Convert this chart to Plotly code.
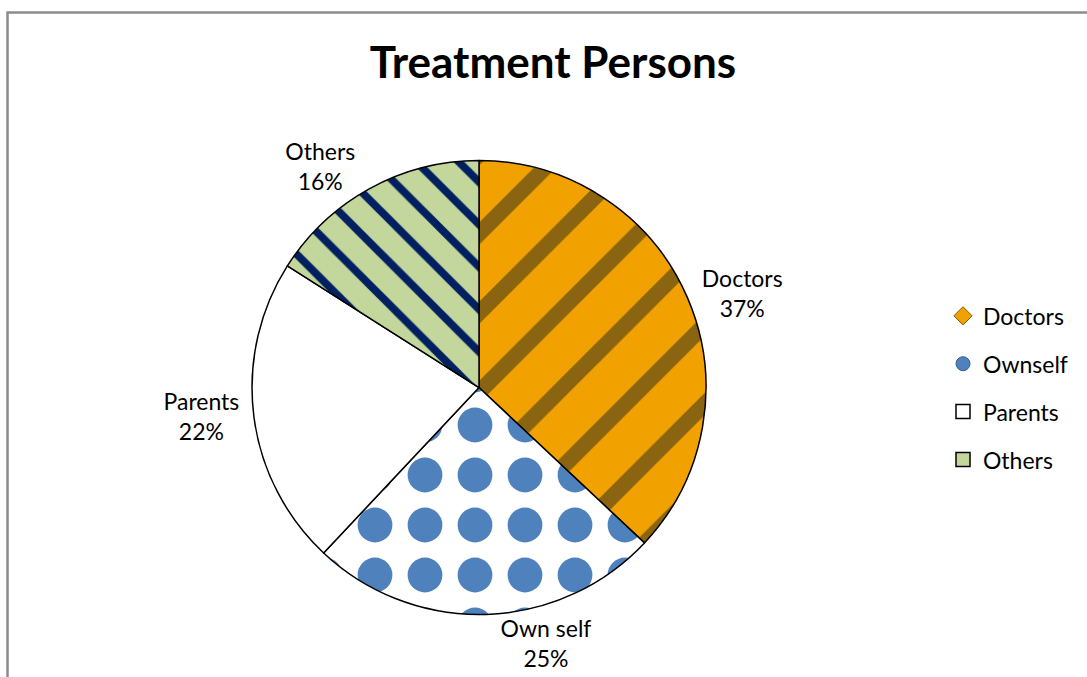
import plotly.graph_objects as go

# Who provided the treatment (share of respondents)
categories = ["Doctors", "Ownself", "Parents", "Others"]
slice_labels = ["Doctors", "Own self", "Parents", "Others"]
shares = [37, 25, 22, 16]

W, H = 1087, 677
FONT = "Lato"

slice_fill = dict(
    colors=["#F2A200", "#FFFFFF", "#FFFFFF", "#C3D69B"],
    line=dict(color="#000000", width=1.5),
    pattern=dict(
        shape=["/", ".", "", "\\"],
        fgcolor=["#8A6410", "#4F81BD", "#FFFFFF", "#002060"],
        bgcolor=["#F2A200", "#FFFFFF", "#FFFFFF", "#C3D69B"],
        size=[56, 50, 10, 30],
        solidity=[0.28, 0.38, 0.1, 0.26],
        fillmode="replace",
    ),
)

cx, cy, r = 479, 391, 229
fig = go.Figure()
fig.add_trace(go.Pie(
    labels=categories,
    values=shares,
    text=slice_labels,
    texttemplate="%{text}<br>%{percent:.0%}",
    textposition="outside",
    textfont=dict(family=FONT, size=23, color="#000000"),
    sort=False,
    direction="clockwise",
    rotation=0,
    marker=slice_fill,
    showlegend=False,
    hoverinfo="label+percent",
    domain=dict(x=[(cx - r) / W, (cx + r) / W],
                y=[1 - (cy + r) / H, 1 - (cy - r) / H]),
))

# Legend entries
legend_marks = [
    dict(symbol="diamond", color="#F2A200", line=dict(color="#7D5A06", width=1)),
    dict(symbol="circle", color="#4F81BD", line=dict(color="#385D8A", width=1)),
    dict(symbol="square", color="#FFFFFF", line=dict(color="#000000", width=1.5)),
    dict(symbol="square", color="#C3D69B", line=dict(color="#000000", width=1.5)),
]
for name, mk in zip(categories, legend_marks):
    fig.add_trace(go.Scatter(
        x=[None], y=[None], mode="markers", name=name,
        legendgroup=name, marker=dict(size=14, **mk),
    ))

fig.update_layout(
    width=W, height=H,
    margin=dict(l=0, r=0, t=0, b=0),
    paper_bgcolor="#FFFFFF",
    plot_bgcolor="#FFFFFF",
    font=dict(family=FONT, color="#000000"),
    title=dict(text="<b>Treatment Persons</b>", x=553 / W, xanchor="center",
               y=1 - 63 / H, yanchor="middle",
               font=dict(family=FONT, size=44, color="#000000")),
    xaxis=dict(visible=False),
    yaxis=dict(visible=False),
    legend=dict(x=943 / W, xanchor="left", y=1 - 297 / H, yanchor="top",
                font=dict(family=FONT, size=23, color="#000000"),
                traceorder="grouped", tracegroupgap=15,
                itemwidth=30, bgcolor="rgba(0,0,0,0)"),
    shapes=[dict(type="rect", xref="paper", yref="paper",
                 x0=7.5 / W, x1=1.05, y0=-0.05, y1=1 - 12.5 / H,
                 line=dict(color="#8C8C8C", width=2.5), layer="below")],
)

fig.write_html("out.html")
